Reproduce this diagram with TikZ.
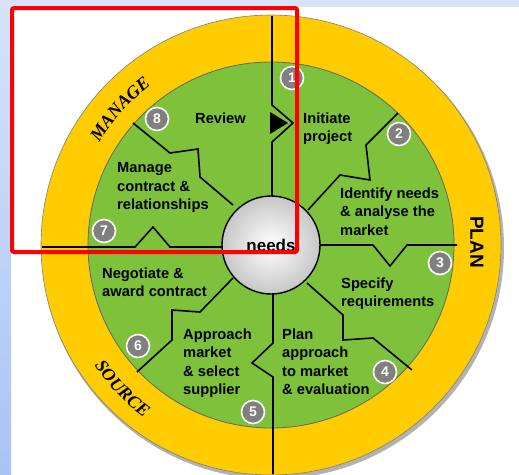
\documentclass[tikz,border=0pt]{standalone}
\usepackage{fontspec}
\setsansfont{Liberation Sans}
\newfontfamily\ringfont{Liberation Serif}
\usetikzlibrary{decorations.text}

\definecolor{ringyellow}{RGB}{255,204,0}
\definecolor{wheelgreen}{RGB}{125,194,58}
\definecolor{numgray}{RGB}{128,128,128}
\definecolor{stripblue}{RGB}{214,227,250}
\definecolor{stripdark}{RGB}{168,196,245}

\begin{document}
\begin{tikzpicture}[x=1pt, y=-1pt,
    divider/.style={draw=black, line width=1.6pt},
    stage label/.style={anchor=north west, inner sep=0pt, align=left,
      font=\sffamily\bfseries\fontsize{14.7}{18.5}\selectfont},
    num node/.style={circle, draw=white, line width=1.6pt, fill=numgray,
      inner sep=0pt, minimum size=23pt, text=white,
      font=\sffamily\bfseries\fontsize{14}{14}\selectfont},
    ring text/.style={decorate, decoration={text along path, text align=center,
      text={|\ringfont\bfseries\itshape\fontsize{18}{18}\selectfont|#1}}}]

  \useasboundingbox (0,0) rectangle (519,474);
  \clip (0,0) rectangle (519,474);
  \fill[white] (0,0) rectangle (519,474);
  \fill[stripblue] (0,0) rectangle (519,7);
  \shade[top color=stripblue, bottom color=stripdark] (0,0) rectangle (11,474);

  \coordinate (C) at (271,245);

  % rings
  \fill[black!30] (273,248) circle[radius=231];
  \draw[black!50, fill=ringyellow, line width=0.6pt] (C) circle[radius=230];
  \draw[black!60, fill=wheelgreen, line width=0.8pt] (C) circle[radius=183];

  % dividers
  \draw[divider] (272,16) -- (272,105) -- (293,123) -- (272,142) -- (272,196);
  \fill[black] (270,112) -- (288,123) -- (270,134) -- cycle;
  \draw[divider] (308,210) -- (340,175) -- (370,180) -- (366,145) -- (398,113);
  \draw[divider] (320,245) -- (373,245) -- (390,266) -- (407,245) -- (457,245);
  \draw[divider] (307,283) -- (343,315) -- (343,340) -- (373,338) -- (412,370);
  \draw[divider] (273,294) -- (273,343) -- (252,363) -- (273,377) -- (273,474);
  \draw[divider] (233,278) -- (200,312) -- (172,310) -- (172,340) -- (137,372);
  \draw[divider] (222,247) -- (170,247) -- (153,227) -- (135,247) -- (42,247);
  \draw[divider] (233,205) -- (200,177) -- (198,149) -- (170,153) -- (133,123);

  \node[circle, draw=black, line width=1.4pt, minimum size=98pt, inner sep=0pt,
        inner color=white, outer color=black!22,
        font=\sffamily\bfseries\fontsize{17}{17}\selectfont] (needs) at (C) {needs};

  % stages
  \node[stage label] (review) at (195,112.5) {Review};
  \node[stage label] (initiate) at (303,112.5) {Initiate\\project};
  \node[stage label] (identify) at (340,187.5) {Identify needs\\\& analyse the\\market};
  \node[stage label] (specify) at (341,277.5) {Specify\\requirements};
  \node[stage label] (plan) at (282,328.5) {Plan\\approach\\to market\\\& evaluation};
  \node[stage label] (approach) at (183,328.5) {Approach\\market\\\& select\\supplier};
  \node[stage label] (negotiate) at (102,267.5) {Negotiate \&\\award contract};
  \node[stage label] (manage) at (117,162.5) {Manage\\contract \&\\relationships};

  \node[num node] (n1) at (292,78) {1};
  \node[num node] (n2) at (399,134) {2};
  \node[num node] (n3) at (440,263) {3};
  \node[num node] (n4) at (385,372) {4};
  \node[num node] (n5) at (253,412) {5};
  \node[num node] (n6) at (138,346) {6};
  \node[num node] (n7) at (104,231) {7};
  \node[num node] (n8) at (157,119) {8};

  % ring words
  \path[ring text=MANAGE] (C) ++(-162:200) arc[start angle=-162, end angle=-114, radius=200];
  \path[ring text=SOURCE] (C) ++(-200:214) arc[start angle=-200, end angle=-248, radius=214];
  \node[rotate=-90, font=\sffamily\bfseries\fontsize{19}{19}\selectfont] (planword) at (477,242) {PLAN};

  \draw[red, line width=4pt, rounded corners=2pt] (12,8) rectangle (297,252);
\end{tikzpicture}
\end{document}
